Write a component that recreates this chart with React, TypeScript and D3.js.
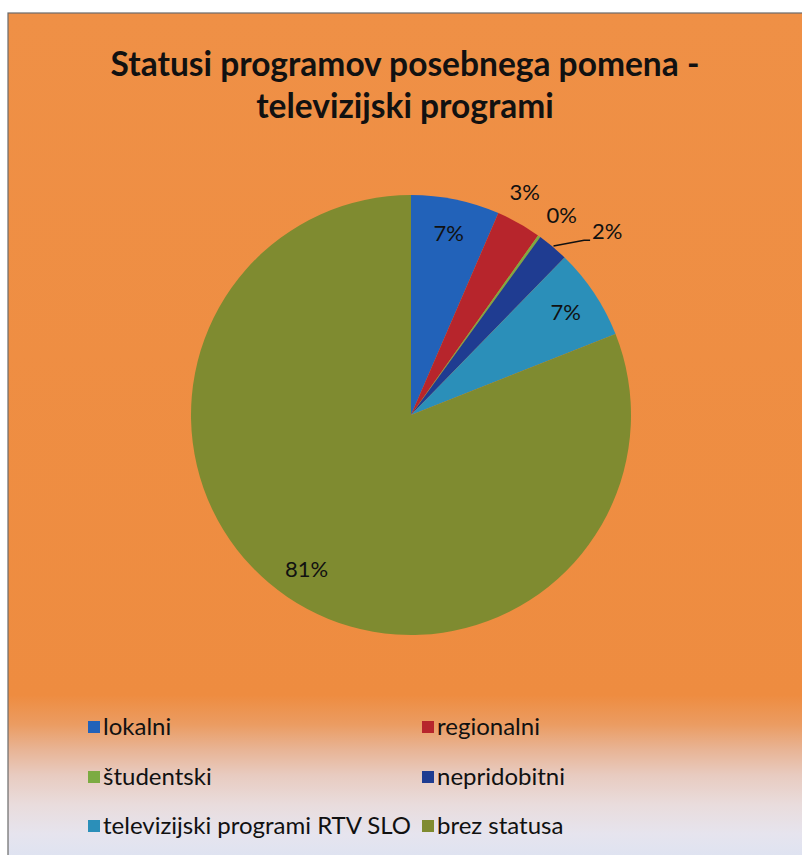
import React from "react";
import * as d3 from "d3";

const categories = [
  "lokalni",
  "regionalni",
  "študentski",
  "nepridobitni",
  "televizijski programi RTV SLO",
  "brez statusa",
];
const values = [6.5, 3.3, 0.2, 2.3, 6.7, 81.0];
const colors = ["#2262b9", "#b7252c", "#7cab42", "#1f3c91", "#2b8fb9", "#7f8b30"];
const labelPlacement = ["in", "out", "out", "leader", "in", "in"];
const labelAngleShift = [0, -0.04, 0.025, 0, 0, 0];
const titleLines = ["Statusi programov posebnega pomena -", "televizijski programi"];

const W = 802;
const H = 855;
const FONT = "Lato, 'Open Sans', sans-serif";

export default function App() {
  const cx = 411;
  const cy = 415;
  const r = 220;
  const total = d3.sum(values);
  const pie = d3
    .pie<number>()
    .sort(null)
    .value((d) => d)
    .startAngle(0)
    .endAngle(2 * Math.PI);
  const arcs = pie(values);
  const arc = d3.arc<d3.PieArcDatum<number>>().innerRadius(0).outerRadius(r);
  const polar = (a: number, rad: number) => [Math.sin(a) * rad, -Math.cos(a) * rad];

  const legendCols = [80, 414];
  const legendRows = [727, 777, 826];

  return (
    <svg
      width={W}
      height={H}
      style={{ position: "absolute", left: 0, top: 0 }}
      fontFamily={FONT}
    >
      <defs>
        <linearGradient id="bg" gradientUnits="userSpaceOnUse" x1="0" y1="13" x2="0" y2="855">
          <stop offset="0" stopColor="#ef9046" />
          <stop offset="0.81" stopColor="#ee8c40" />
          <stop offset="0.845" stopColor="#eb9c62" />
          <stop offset="0.875" stopColor="#e8b495" />
          <stop offset="0.905" stopColor="#e8cbc0" />
          <stop offset="0.94" stopColor="#e9dcdc" />
          <stop offset="0.975" stopColor="#e6e4ee" />
          <stop offset="1" stopColor="#dfe3f1" />
        </linearGradient>
      </defs>
      <rect x={0} y={0} width={W} height={H} fill="#ffffff" />
      <rect x={8} y={13} width={W} height={H} fill="url(#bg)" stroke="#6b6b6b" strokeWidth={1.2} />

      {titleLines.map((t, i) => (
        <text
          key={i}
          x={405}
          y={76 + i * 42}
          textAnchor="middle"
          fontSize={33.5}
          fontWeight="bold"
          fill="#111"
        >
          {t}
        </text>
      ))}

      <g transform={`translate(${cx},${cy})`}>
        {arcs.map((a, i) => (
          <path key={i} d={arc(a) || ""} fill={colors[i]} />
        ))}
        {arcs.map((a, i) => {
          const label = `${Math.round((a.data / total) * 100)}%`;
          const mid = (a.startAngle + a.endAngle) / 2 + labelAngleShift[i];
          if (labelPlacement[i] === "leader") {
            const [x0, y0] = polar(mid, r + 1);
            const [x1, y1] = polar(mid + 0.08, 246);
            return (
              <g key={i}>
                <polyline
                  points={`${x0},${y0} ${x1},${y1} ${x1 + 6},${y1}`}
                  fill="none"
                  stroke="#111"
                  strokeWidth={1.5}
                />
                <text x={x1 + 8} y={y1} dy="-0.05em" fontSize={22} fill="#111">
                  {label}
                </text>
              </g>
            );
          }
          const [lx, ly] = polar(mid, labelPlacement[i] === "in" ? 186 : 250);
          return (
            <text
              key={i}
              x={lx}
              y={ly}
              dy="0.35em"
              textAnchor="middle"
              fontSize={22}
              fill="#111"
            >
              {label}
            </text>
          );
        })}
      </g>

      {categories.map((c, i) => {
        const x = legendCols[i % 2];
        const y = legendRows[Math.floor(i / 2)];
        return (
          <g key={c}>
            <rect x={x + 8} y={y - 6} width={12} height={12} fill={colors[i]} />
            <text x={x + 23} y={y} dy="0.35em" fontSize={24} fill="#111">
              {c}
            </text>
          </g>
        );
      })}
    </svg>
  );
}
